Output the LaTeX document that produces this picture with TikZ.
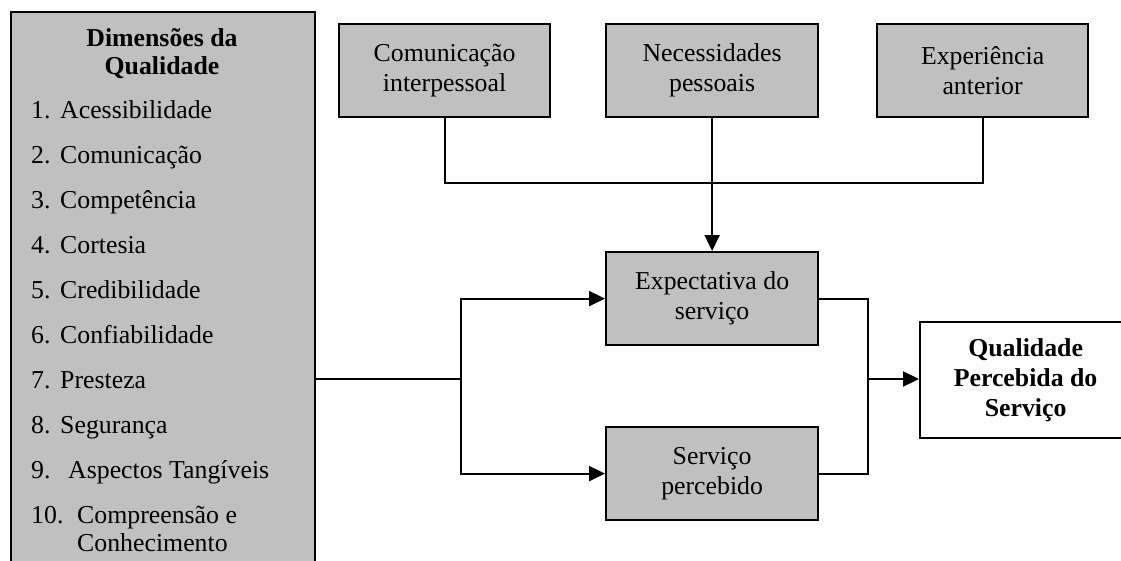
\documentclass[tikz,border=0pt]{standalone}
\usepackage{fontspec}
\setmainfont{Liberation Serif}
\usetikzlibrary{arrows.meta}
\definecolor{boxgray}{HTML}{C0C0C0}
\newcommand\diagsz{\fontsize{25.8}{30}\selectfont}
\begin{document}
\begin{tikzpicture}[x=1pt,y=-1pt,
  every node/.style={font=\diagsz, inner sep=0pt},
  box/.style={draw, line width=2.2pt, fill=boxgray, align=center, anchor=north west},
  link/.style={line width=2.2pt},
  arr/.style={link, -{Triangle[length=16pt,width=15pt]}},
  num/.style={anchor=base west},
  item/.style={anchor=base west},
  ttl/.style={anchor=base, font=\diagsz\bfseries}]
\useasboundingbox (0,0) rectangle (1121,560);

% quality dimensions panel
\node[box, minimum width=304, minimum height=575] (dims) at (10,11) {};
\node[ttl] (dimA) at (162,46) {Dimensões da};
\node[ttl] (dimB) at (162,74) {Qualidade};
\foreach \k/\t [count=\i] in {60/Acessibilidade, 60/Comunicação, 60/Competência,
    60/Cortesia, 60/Credibilidade, 60/Confiabilidade, 60/Presteza,
    60/Segurança, 68/Aspectos Tangíveis, 77/Compreensão e} {
  \node[num] (n\i) at (31,{118.5+45*(\i-1)}) {\i.};
  \node[item] (t\i) at (\k,{118.5+45*(\i-1)}) {\t};
}
\node[item] (t10b) at (77,551) {Conhecimento};

% expectation sources
\node[box, minimum width=211, minimum height=93] (com) at (338,23) {Comunicação\\interpessoal};
\node[box, minimum width=212, minimum height=93] (nec) at (605,23) {Necessidades\\pessoais};
\node[box, minimum width=211, minimum height=93] (exp) at (876,23) {Experiência\\anterior};

% expectation and perception
\node[box, minimum width=212, minimum height=93] (expc) at (605,251) {Expectativa do\\serviço};
\node[box, minimum width=212, minimum height=93] (serv) at (605,426) {Serviço\\percebido};

% result
\node[box, fill=white, minimum width=211, minimum height=116, font=\diagsz\bfseries] (qual) at (919,321) {Qualidade\\Percebida do\\Serviço};

% connectors
\coordinate (jtop) at (712,183);
\coordinate (split) at (461,379);
\coordinate (merge) at (868,379);

\draw[link] (com.south) -- (com.south |- jtop) -- (exp.south |- jtop) -- (exp.south);
\draw[arr] (nec.south) -- (expc.north);

\draw[link] (dims.east |- split) -- (split);
\draw[arr] (split) |- (expc.west);
\draw[arr] (split) |- (serv.west);

\draw[link] (expc.east) -| (merge) |- (serv.east);
\draw[arr] (merge) -- (merge -| qual.west);
\end{tikzpicture}
\end{document}
